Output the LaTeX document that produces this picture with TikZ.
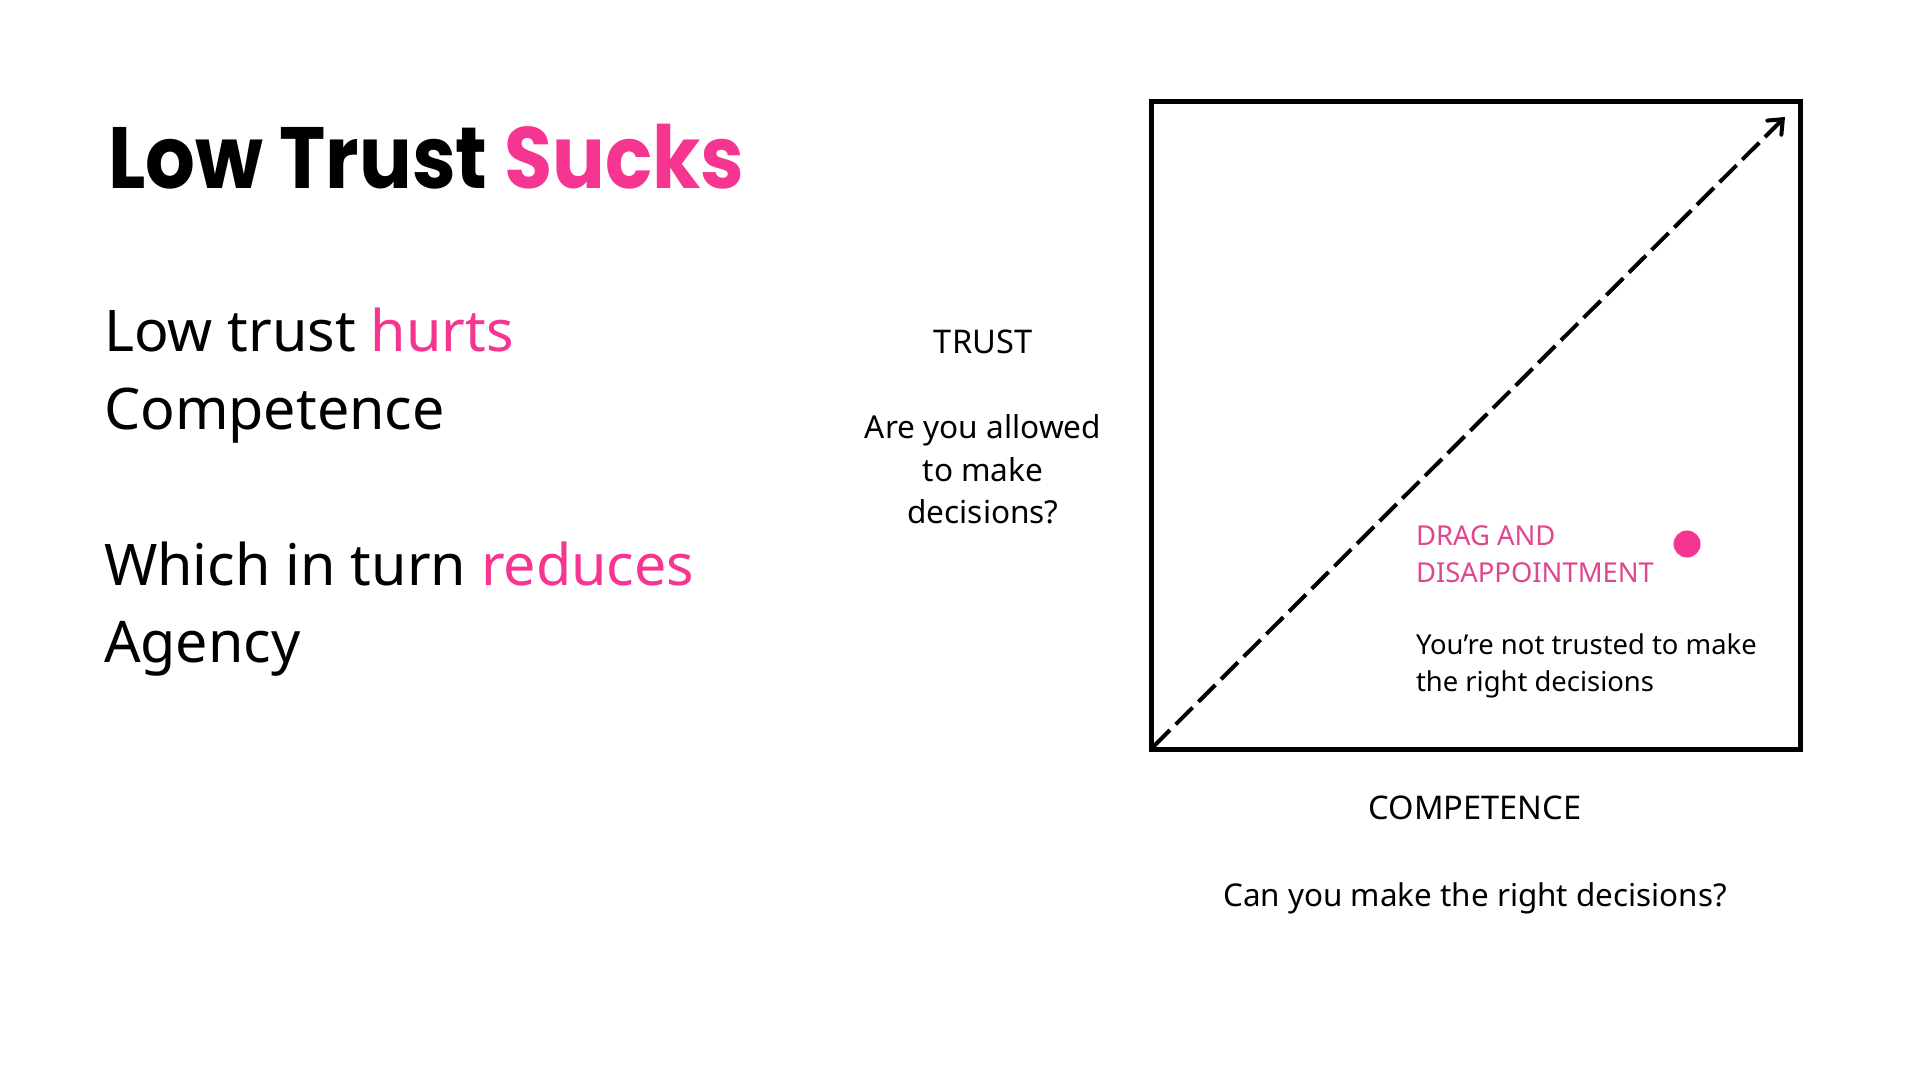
\documentclass[tikz,border=0pt]{standalone}
\usepackage{fontspec}
\setmainfont{Noto Sans}
\newfontfamily\titlefont{Poppins}[FakeStretch=0.9]
\usetikzlibrary{arrows.meta}
\definecolor{hot}{HTML}{F5358F}
\definecolor{hotsoft}{HTML}{E0458F}
\begin{document}
\begin{tikzpicture}[x=0.5pt,y=-0.5pt,
  txt/.style={inner sep=0pt,outer sep=0pt},
  lw/.style={txt,anchor=base west},
  cw/.style={txt,anchor=base},
  bodytxt/.style={font=\fontsize{28.7}{34}\selectfont},
  smalltxt/.style={font=\fontsize{15.8}{19}\selectfont},
  tinytxt/.style={font=\fontsize{13.7}{17}\selectfont}]
\useasboundingbox[fill=white] (0,0) rectangle (1920,1080);
% title
\node[lw,font=\titlefont\bfseries\fontsize{43.5}{50}\selectfont] (title) at (108,189) {Low Trust \textcolor{hot}{Sucks}};
% body
\node[lw,bodytxt] (b1) at (104,351) {Low trust \textcolor{hot}{hurts}};
\node[lw,bodytxt] (b2) at (104,429) {Competence};
\node[lw,bodytxt] (b3) at (104,585) {Which in turn \textcolor{hot}{reduces}};
\node[lw,bodytxt] (b4) at (104,662) {Agency};
% y-axis labels
\node[cw,font=\fontsize{16.3}{19}\selectfont] (trust) at (983,353) {TRUST};
\node[cw,smalltxt] (q1) at (983,438) {Are you allowed};
\node[cw,smalltxt] (q2) at (983,481) {to make};
\node[cw,smalltxt] (q3) at (983,523) {decisions?};
% box
\draw[line width=2.5pt] (1151,102) rectangle (1800,749);
\coordinate (start) at (1153,747);
\coordinate (end) at (1785,117);
\draw[line width=2pt,dash pattern=on 12pt off 4pt,-{Straight Barb[length=6pt,width=10pt,line cap=round]}] (start) -- (end);
% quadrant labels
\node[lw,tinytxt,text=hotsoft] (d1) at (1416,545) {DRAG AND};
\node[lw,tinytxt,text=hotsoft] (d2) at (1416,582) {DISAPPOINTMENT};
\fill[hot] (1687,544) circle (13.5);
\node[lw,tinytxt] (n1) at (1416,654) {You’re not trusted to make};
\node[lw,tinytxt] (n2) at (1416,691) {the right decisions};
% x-axis labels
\node[cw,font=\fontsize{16.3}{19}\selectfont] (comp) at (1475,819) {COMPETENCE};
\node[cw,font=\fontsize{15.7}{19}\selectfont] (cq) at (1475,906) {Can you make the right decisions?};
\end{tikzpicture}
\end{document}
